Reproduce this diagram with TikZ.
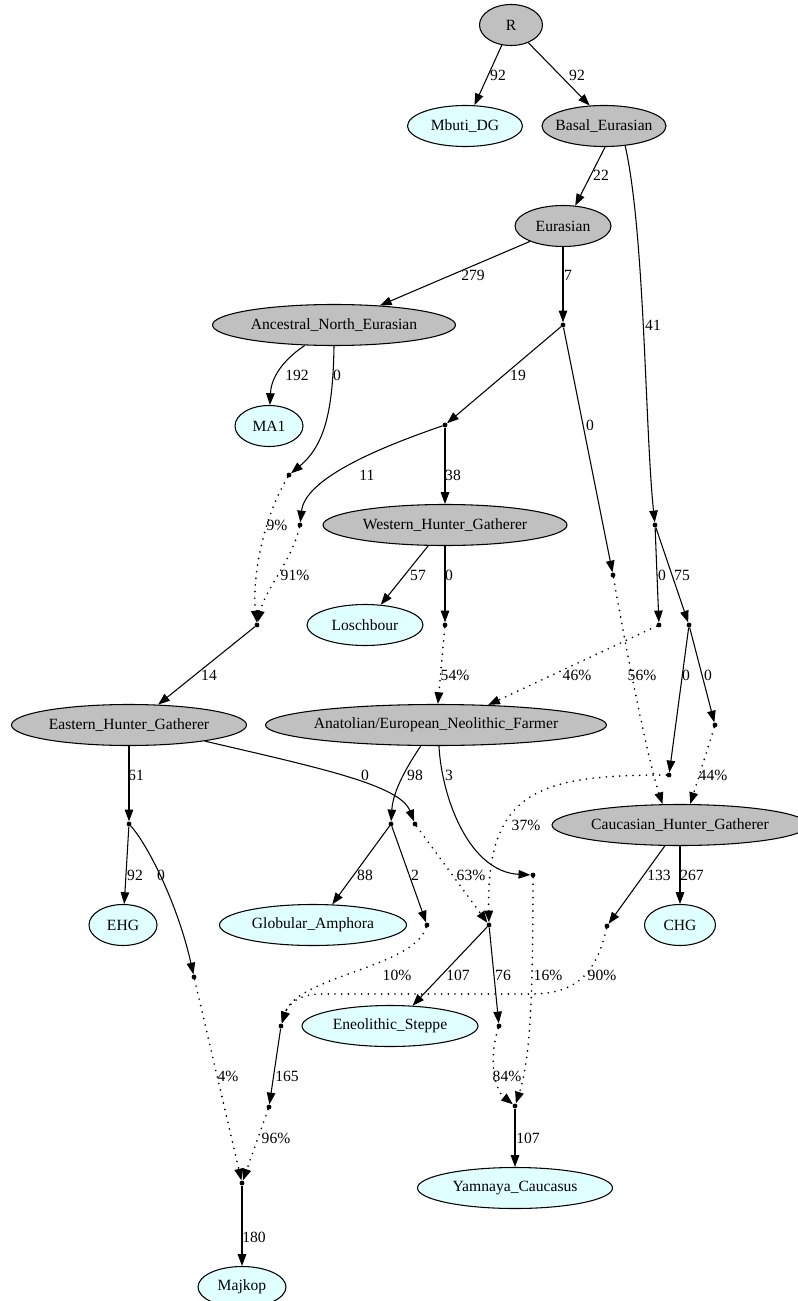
\documentclass[tikz,border=0pt]{standalone}
\usepackage{fontspec}
\setmainfont{Liberation Serif}
\usetikzlibrary{shapes.geometric,arrows.meta}
\definecolor{popgray}{HTML}{C0C0C0}
\definecolor{leafcyan}{HTML}{E0FFFF}
\newcommand{\zb}[1]{\makebox[0pt][c]{#1}}
\tikzset{
  popnode/.style={ellipse, draw=black, line width=0.8pt, fill=popgray, minimum height=30.75pt, inner sep=0pt, font=\fontsize{11.7}{14}\selectfont},
  leafnode/.style={popnode, fill=leafcyan},
  dotnode/.style={circle, fill=black, inner sep=0pt, minimum size=3.6pt},
  edgeline/.style={draw=black, line width=0.8pt, -{Triangle[length=8.8pt,width=6.4pt]}},
  admix/.style={edgeline, line width=1.4pt, dash pattern=on 0pt off 5pt, line cap=round},
  elabel/.style={inner sep=0pt, font=\fontsize{11.7}{14}\selectfont, text=black},
}
\begin{document}
\begin{tikzpicture}[x=0.75pt, y=-0.75pt]
\useasboundingbox (0,0) rectangle (797,1301);
\fill[white] (0,0) rectangle (797,1301);

% population nodes
\node[popnode, minimum width=47.25pt] (R) at (511,25) {\zb{R}};
\node[leafnode, minimum width=86.25pt] (mbuti) at (465,126) {\zb{Mbuti\_DG}};
\node[popnode, minimum width=93pt] (basal) at (604,126) {\zb{Basal\_Eurasian}};
\node[popnode, minimum width=72pt] (eura) at (563,226) {\zb{Eurasian}};
\node[popnode, minimum width=182.25pt] (ane) at (334,325) {\zb{Ancestral\_North\_Eurasian}};
\node[leafnode, minimum width=51pt] (ma1) at (269,426) {\zb{MA1}};
\node[popnode, minimum width=183pt] (whg) at (445,525) {\zb{Western\_Hunter\_Gatherer}};
\node[leafnode, minimum width=87pt] (losch) at (365,625) {\zb{Loschbour}};
\node[popnode, minimum width=176.25pt] (ehgpop) at (129,725) {\zb{Eastern\_Hunter\_Gatherer}};
\node[popnode, minimum width=255.75pt] (anef) at (436,725) {\zb{Anatolian/European\_Neolithic\_Farmer}};
\node[popnode, minimum width=192pt] (chgpop) at (680,825) {\zb{Caucasian\_Hunter\_Gatherer}};
\node[leafnode, minimum width=51pt] (ehg) at (123,925) {\zb{EHG}};
\node[leafnode, minimum width=140.25pt] (ga) at (313,925) {\zb{Globular\_Amphora}};
\node[leafnode, minimum width=53.25pt] (chg) at (680,925) {\zb{CHG}};
\node[leafnode, minimum width=132pt] (es) at (390,1026) {\zb{Eneolithic\_Steppe}};
\node[leafnode, minimum width=146.25pt] (yam) at (515,1188) {\zb{Yamnaya\_Caucasus}};
\node[leafnode, minimum width=66pt] (majkop) at (242,1287) {\zb{Majkop}};

% point nodes
\node[dotnode] (p1) at (563,325) {};
\node[dotnode] (p2) at (445,425) {};
\node[dotnode] (p3) at (289,475) {};
\node[dotnode] (p4) at (300,525) {};
\node[dotnode] (p5) at (257,625) {};
\node[dotnode] (p6) at (613,575) {};
\node[dotnode] (p7) at (445,625) {};
\node[dotnode] (p8) at (655,525) {};
\node[dotnode] (p9) at (659,625) {};
\node[dotnode] (p10) at (689,625) {};
\node[dotnode] (p11) at (669,775) {};
\node[dotnode] (p12) at (715,725) {};
\node[dotnode] (p13) at (129,824) {};
\node[dotnode] (p14) at (415,824) {};
\node[dotnode] (p15) at (391,824) {};
\node[dotnode] (p16) at (533,875) {};
\node[dotnode] (pes) at (489,925) {};
\node[dotnode] (p17) at (194,977) {};
\node[dotnode] (p18) at (427,925) {};
\node[dotnode] (p19) at (499,1026) {};
\node[dotnode] (p20) at (607,926) {};
\node[dotnode] (p21) at (281,1026) {};
\node[dotnode] (p22) at (515,1106) {};
\node[dotnode] (p23) at (269,1107) {};
\node[dotnode] (p24) at (242,1183) {};

% drift and admixture edges
\draw[edgeline] (R) -- (mbuti) node[elabel] at (498,75) {92};
\draw[edgeline] (R) -- (basal.125) node[elabel] at (577,75) {92};
\draw[edgeline] (basal.-87) -- (eura.59) node[elabel] at (601,175) {22};
\draw[edgeline] (eura.205) -- (ane.23) node[elabel] at (473,275) {279};
\draw[edgeline] (eura) -- (p1) node[elabel] at (568,275) {7};
\draw[edgeline] (basal.-43) .. controls (645,235) and (645,430) .. (p8) node[elabel] at (653,325) {41};
\draw[edgeline] (ane.215) .. controls (280,362) and (271,380) .. (ma1) node[elabel] at (297,375) {192};
\draw[edgeline] (ane.-90) .. controls (333,410) and (325,445) .. (p3) node[elabel] at (337,375) {0};
\draw[edgeline] (p1) -- (p2) node[elabel] at (518,375) {19};
\draw[edgeline] (p1) -- (p6) node[elabel] at (590,425) {0};
\draw[edgeline] (p2) .. controls (372,450) and (305,480) .. (p4) node[elabel] at (367,475) {11};
\draw[edgeline] (p2) -- (whg) node[elabel] at (453,475) {38};
\draw[admix] (p3) .. controls (262,520) and (252,580) .. (p5) node[elabel] at (277,525) {9\%};
\draw[admix] (p4) .. controls (292,560) and (265,590) .. (p5) node[elabel] at (295,575) {91\%};
\draw[edgeline] (whg.231) -- (losch.52) node[elabel] at (418,575) {57};
\draw[edgeline] (whg) -- (p7) node[elabel] at (449,575) {0};
\draw[edgeline] (p8) -- (p9) node[elabel] at (662,575) {0};
\draw[edgeline] (p8) -- (p10) node[elabel] at (682,575) {75};
\draw[edgeline] (p5) -- (ehgpop.35) node[elabel] at (209,675) {14};
\draw[admix] (p7) -- (anef) node[elabel] at (455,675) {54\%};
\draw[admix] (p9) -- (anef.21) node[elabel] at (577,675) {46\%};
\draw[admix] (p6) .. controls (628,660) and (648,760) .. (chgpop.130) node[elabel] at (642,675) {56\%};
\draw[edgeline] (p10) -- (p11) node[elabel] at (686,675) {0};
\draw[edgeline] (p10) -- (p12) node[elabel] at (708,675) {0};
\draw[edgeline] (ehgpop) -- (p13) node[elabel] at (136,775) {61};
\draw[edgeline] (ehgpop.-12) .. controls (320,768) and (400,785) .. (p14) node[elabel] at (365,775) {0};
\draw[edgeline] (anef.-126) .. controls (408,765) and (393,790) .. (p15) node[elabel] at (415,775) {98};
\draw[edgeline] (anef.-82) .. controls (442,800) and (470,872) .. (p16) node[elabel] at (449,775) {3};
\draw[admix] (p12) -- (chgpop.64) node[elabel] at (713,775) {44\%};
\draw[admix] (p11) .. controls (540,775) and (486,790) .. (pes) node[elabel] at (526,825) {37\%};
\draw[edgeline] (p13) -- (ehg) node[elabel] at (135,875) {92};
\draw[edgeline] (p13) .. controls (148,845) and (178,905) .. (p17) node[elabel] at (161,875) {0};
\draw[edgeline] (p15) -- (ga.47) node[elabel] at (365,875) {88};
\draw[edgeline] (p15) -- (p18) node[elabel] at (415,875) {2};
\draw[admix] (p14) -- (pes) node[elabel] at (471,875) {63\%};
\draw[edgeline] (chgpop.-126) -- (p20) node[elabel] at (659,875) {133};
\draw[edgeline] (chgpop) -- (chg) node[elabel] at (692,875) {267};
\draw[edgeline] (pes) -- (es.42) node[elabel] at (458,975) {107};
\draw[edgeline] (pes) -- (p19) node[elabel] at (503,975) {76};
\draw[admix] (p18) .. controls (413,968) and (297,976) .. (p21) node[elabel] at (397,975) {10\%};
\draw[admix] (p16) .. controls (533,1000) and (530,1060) .. (p22) node[elabel] at (548,975) {16\%};
\draw[admix] (p20) .. controls (595,980) and (570,994) .. (530,994) -- (320,994) .. controls (300,994) and (288,1004) .. (p21) node[elabel] at (602,975) {90\%};
\draw[admix] (p17) -- (p24) node[elabel] at (228,1076) {4\%};
\draw[edgeline] (p21) -- (p23) node[elabel] at (287,1076) {165};
\draw[admix] (p19) .. controls (488,1060) and (495,1090) .. (p22) node[elabel] at (507,1076) {84\%};
\draw[admix] (p23) -- (p24) node[elabel] at (276,1138) {96\%};
\draw[edgeline] (p22) -- (yam) node[elabel] at (528,1138) {107};
\draw[edgeline] (p24) -- (majkop) node[elabel] at (254,1237) {180};
\end{tikzpicture}
\end{document}
